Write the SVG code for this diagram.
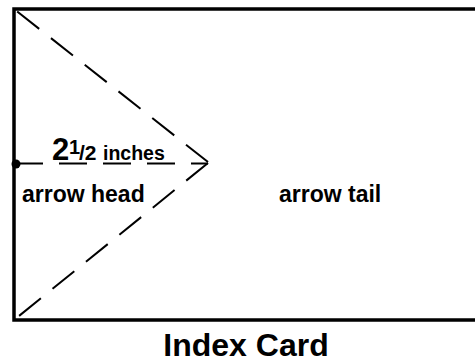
<svg xmlns="http://www.w3.org/2000/svg" width="475" height="362" viewBox="0 0 475 362">
<style>
.b{fill:none;stroke:#000;stroke-width:3.5}
.d{fill:none;stroke:#000;stroke-width:2;stroke-dasharray:28 15}
.t{font-family:"Liberation Sans",Arial,sans-serif;font-weight:bold;fill:#000}
</style>
<rect width="475" height="362" fill="#fff"/>
<g id="card">
<polyline class="b" points="480,9 14,9 14,320 480,320"/>
</g>
<g id="connectors">
<line class="d" x1="208" y1="162" x2="14" y2="9"/>
<line class="d" x1="208" y1="163" x2="14" y2="320"/>
<line class="d" x1="15" y1="163.5" x2="208" y2="163.5" style="stroke-dasharray:28 16"/>
<circle cx="16" cy="164" r="4.5" fill="#000"/>
</g>
<g id="labels">
<text class="t" x="52" y="160" font-size="31">2</text>
<text class="t" x="69" y="154" font-size="20">1</text>
<text class="t" x="79" y="160" font-size="21" font-weight="normal">/2</text>
<text class="t" x="103" y="160" font-size="19.5">inches</text>
<text class="t" x="22" y="202" font-size="23">arrow head</text>
<text class="t" x="279" y="202" font-size="23">arrow tail</text>
<text class="t" x="246" y="356" font-size="32" text-anchor="middle">Index Card</text>
</g>
</svg>
